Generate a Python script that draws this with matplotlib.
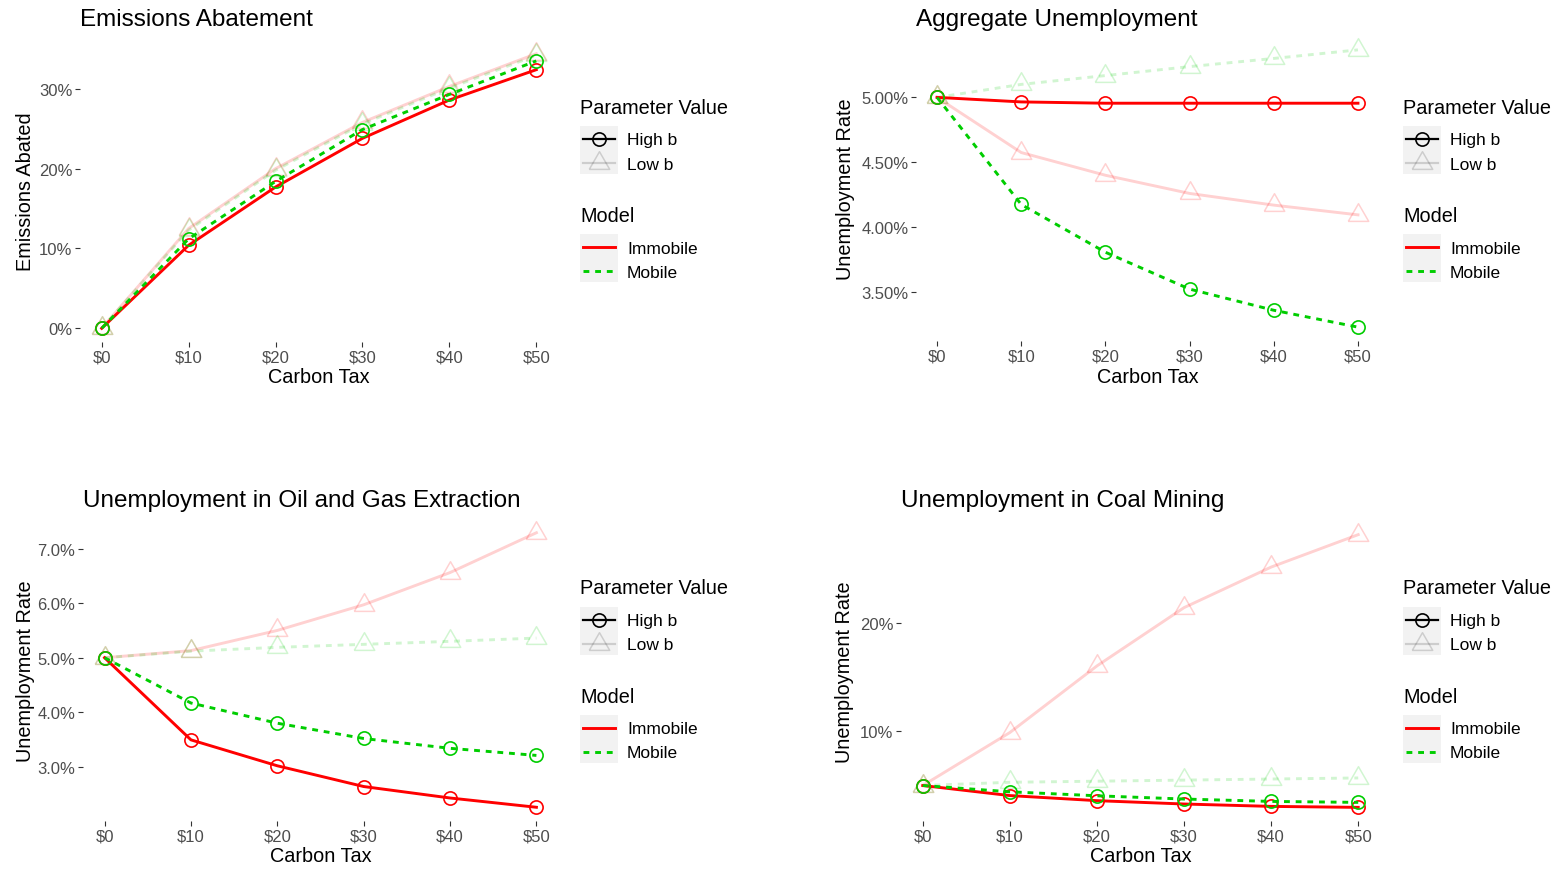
import matplotlib.pyplot as plt
from matplotlib.lines import Line2D
from matplotlib.patches import Rectangle

plt.rcParams['font.family'] = ['Liberation Sans', 'DejaVu Sans']

# carbon tax levels
taxes = [0, 10, 20, 30, 40, 50]
tax_labels = ['\\$0', '\\$10', '\\$20', '\\$30', '\\$40', '\\$50']

# Emissions abatement (%)
emis_imm_high = [0, 10.4, 17.7, 23.8, 28.6, 32.4]
emis_mob_high = [0, 11.2, 18.4, 24.9, 29.3, 33.5]
emis_imm_low = [0, 12.5, 20.0, 25.8, 30.3, 34.4]
emis_mob_low = [0, 12.3, 19.8, 25.6, 30.1, 34.2]
emis_ticks = [0, 10, 20, 30]

# Aggregate unemployment (%)
agg_imm_high = [5.0, 4.965, 4.955, 4.955, 4.955, 4.955]
agg_mob_high = [5.0, 4.175, 3.807, 3.523, 3.36, 3.23]
agg_imm_low = [5.0, 4.575, 4.40, 4.26, 4.17, 4.095]
agg_mob_low = [5.0, 5.10, 5.168, 5.237, 5.30, 5.366]
agg_ticks = [3.5, 4.0, 4.5, 5.0]

# Oil and gas extraction unemployment (%)
oil_imm_high = [5.0, 3.495, 3.02, 2.64, 2.43, 2.26]
oil_mob_high = [5.0, 4.17, 3.80, 3.52, 3.34, 3.21]
oil_imm_low = [5.0, 5.13, 5.50, 5.97, 6.56, 7.29]
oil_mob_low = [5.0, 5.12, 5.19, 5.245, 5.30, 5.36]
oil_ticks = [3, 4, 5, 6, 7]

# Coal mining unemployment (%)
coal_imm_high = [5.0, 4.07, 3.6, 3.29, 3.07, 2.98]
coal_mob_high = [5.0, 4.42, 4.05, 3.75, 3.53, 3.44]
coal_imm_low = [5.0, 9.9, 16.06, 21.45, 25.2, 28.2]
coal_mob_low = [5.0, 5.3, 5.4, 5.5, 5.6, 5.7]
coal_ticks = [10, 20]

RED = '#FF0000'
GREEN = '#00CD00'
W, H = 1558, 870
tri = [(-1, -0.577), (1, -0.577), (0, 1.155), (-1, -0.577)]

fig = plt.figure(figsize=(W / 100, H / 100), dpi=100)


def px_box(l, t, r, b):
    return [l / W, 1 - b / H, (r - l) / W, (b - t) / H]


panels = [
    ('Emissions Abatement', 'Emissions Abated', px_box(80, 41, 558, 343), -0.115, 10.5,
     emis_imm_high, emis_mob_high, emis_imm_low, emis_mob_low, emis_ticks, '{:.0f}%'),
    ('Aggregate Unemployment', 'Unemployment Rate', px_box(916, 37, 1379, 342), -0.153, 8,
     agg_imm_high, agg_mob_high, agg_imm_low, agg_mob_low, agg_ticks, '{:.2f}%'),
    ('Unemployment in Oil and Gas Extraction', 'Unemployment Rate', px_box(83, 520, 558, 822), -0.122, 9.5,
     oil_imm_high, oil_mob_high, oil_imm_low, oil_mob_low, oil_ticks, '{:.1f}%'),
    ('Unemployment in Coal Mining', 'Unemployment Rate', px_box(901, 522, 1380, 822), -0.117, 11,
     coal_imm_high, coal_mob_high, coal_imm_low, coal_mob_low, coal_ticks, '{:.0f}%'),
]

for title, ylab, box, ylab_x, tpad, imm_h, mob_h, imm_l, mob_l, yt, fmt in panels:
    ax = fig.add_axes(box)
    # low b (faded) first
    ax.plot(taxes, imm_l, color=RED, alpha=0.18, lw=2.1, marker=tri, ms=17,
            mfc='none', mew=1.1)
    ax.plot(taxes, mob_l, color=GREEN, alpha=0.18, lw=2.1, ls=(0, (2, 2)), marker=tri, ms=17,
            mfc='none', mew=1.1)
    ax.plot(taxes, imm_h, color=RED, lw=2.1, marker='o', ms=9.5, mfc='none', mew=1.2)
    ax.plot(taxes, mob_h, color=GREEN, lw=2.1, ls=(0, (2, 2)), marker='o', ms=9.5,
            mfc='none', mew=1.2)

    ax.margins(0.05)
    ax.set_xticks(taxes)
    ax.set_xticklabels(tax_labels)
    ax.set_yticks(yt)
    ax.set_yticklabels([fmt.format(v) for v in yt])
    for s in ax.spines.values():
        s.set_visible(False)
    ax.tick_params(colors='#333333', labelcolor='#4D4D4D', labelsize=12, length=3.5,
                   width=0.8, pad=2)
    ax.set_title(title, loc='left', fontsize=17.5, pad=tpad)
    ax.set_xlabel('Carbon Tax', fontsize=14.3, va='center')
    ax.xaxis.set_label_coords(0.5, -0.115)
    ax.set_ylabel(ylab, fontsize=14.3, va='center')
    ax.yaxis.set_label_coords(ylab_x, 0.5)


def fx(x):
    return x / W


def fy(y):
    return 1 - y / H


def key_line(x, y, **kw):
    fig.add_artist(Line2D([fx(x + 3), fx(x + 35)], [fy(y), fy(y)],
                          transform=fig.transFigure, **kw))


def draw_legend(x, y):
    # parameter value block
    fig.text(fx(x), fy(y), 'Parameter Value', fontsize=14.3, va='center')
    fig.add_artist(Rectangle((fx(x), fy(y + 67)), 38 / W, 48 / H, transform=fig.transFigure,
                             facecolor='#F2F2F2', edgecolor='none'))
    key_line(x, y + 32, color='black', lw=1.6)
    fig.add_artist(Line2D([fx(x + 19)], [fy(y + 32)], transform=fig.transFigure, ls='none',
                          marker='o', ms=9.5, mfc='none', mec='black', mew=1.2))
    key_line(x, y + 56, color='black', alpha=0.15, lw=1.6)
    fig.add_artist(Line2D([fx(x + 19)], [fy(y + 56)], transform=fig.transFigure, ls='none',
                          marker=tri, ms=17, mfc='none', mec='black', mew=1.1, alpha=0.15))
    fig.text(fx(x + 47), fy(y + 33), 'High b', fontsize=12.5, va='center')
    fig.text(fx(x + 47), fy(y + 57), 'Low b', fontsize=12.5, va='center')
    # model block
    fig.text(fx(x), fy(y + 109), 'Model', fontsize=14.3, va='center')
    fig.add_artist(Rectangle((fx(x), fy(y + 175)), 38 / W, 48 / H, transform=fig.transFigure,
                             facecolor='#F2F2F2', edgecolor='none'))
    key_line(x, y + 140, color=RED, lw=2.1)
    key_line(x, y + 164, color=GREEN, lw=2.1, ls=(0, (2, 2)))
    fig.text(fx(x + 47), fy(y + 141), 'Immobile', fontsize=12.5, va='center')
    fig.text(fx(x + 47), fy(y + 165), 'Mobile', fontsize=12.5, va='center')


draw_legend(580, 108)
draw_legend(1403, 108)
draw_legend(580, 589)
draw_legend(1403, 589)

plt.savefig('out.png', dpi=100)
